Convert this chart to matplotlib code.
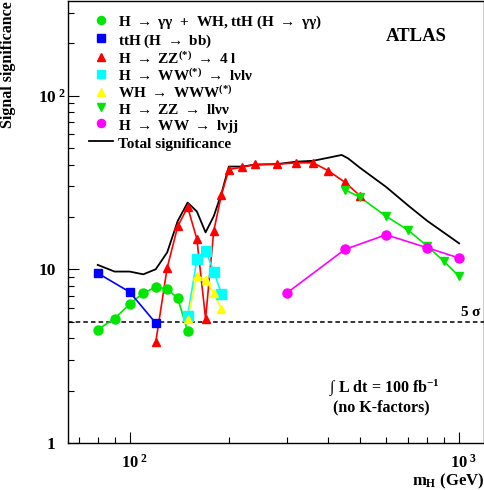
#!/usr/bin/python
# Signal significance vs Higgs mass, ATLAS 100 fb-1
import numpy as np
import matplotlib
matplotlib.use("Agg")
import matplotlib.pyplot as plt
import matplotlib.transforms as mtransforms

# H -> gamma gamma + WH, ttH (H -> gamma gamma)
m_gg = [80, 90, 100, 110, 120, 130, 140, 150]
s_gg = [4.5, 5.2, 6.3, 7.3, 7.9, 7.7, 6.8, 4.4]
# ttH (H -> bb)
m_tth = [80, 100, 120]
s_tth = [9.5, 7.4, 4.9]
# H -> ZZ(*) -> 4l
m_4l = [120, 130, 140, 150, 160, 170, 180, 190, 200, 220, 240, 280, 320, 360, 400, 450, 500]
s_4l = [3.8, 10.2, 17.7, 22.8, 14.9, 5.2, 16.6, 26.9, 37.5, 38.7, 40.1, 40.2, 41.0, 41.0, 37.0, 31.7, 26.5]
# H -> WW(*) -> lvlv
m_ww = [150, 160, 170, 180, 190]
s_ww = [5.4, 11.4, 12.8, 9.7, 7.2]
# WH -> WWW(*)
m_www = [150, 160, 170, 180, 190]
s_www = [5.2, 9.2, 8.7, 7.3, 5.9]
# H -> ZZ -> llvv
m_llvv = [450, 500, 600, 700, 800, 900, 1000]
s_llvv = [28.7, 26.0, 20.2, 16.8, 13.6, 11.1, 9.1]
# H -> WW -> lvjj
m_lvjj = [300, 450, 600, 800, 1000]
s_lvjj = [7.3, 13.0, 15.8, 13.3, 11.6]
# total significance
m_tot = [80, 90, 100, 110, 120, 130, 140, 150, 160, 170, 180, 190, 200, 220, 240,
         280, 320, 360, 400, 440, 460, 500, 600, 700, 800, 1000]
s_tot = [10.6, 9.7, 9.7, 9.35, 10.0, 12.5, 19.0, 24.2, 21.5, 16.3, 20.2, 27.3, 39.0, 39.0, 40.0,
         40.3, 41.6, 42.1, 43.8, 45.5, 43.5, 38.4, 29.8, 23.3, 19.0, 14.1]

labels = [r"H $\rightarrow$ $\gamma\gamma$  +  WH, ttH (H $\rightarrow$ $\gamma\gamma$)",
          r"ttH (H $\rightarrow$ bb)",
          r"H $\rightarrow$ ZZ$^{(*)}$ $\rightarrow$ 4 l",
          r"H $\rightarrow$ WW$^{(*)}$ $\rightarrow$ l$\nu$l$\nu$",
          r"WH $\rightarrow$ WWW$^{(*)}$",
          r"H $\rightarrow$ ZZ $\rightarrow$ ll$\nu\nu$",
          r"H $\rightarrow$ WW $\rightarrow$ l$\nu$jj",
          "Total significance"]

plt.rcParams['font.family'] = ['Liberation Serif', 'DejaVu Serif']
plt.rcParams['font.weight'] = 'bold'
plt.rcParams['mathtext.fontset'] = 'custom'
plt.rcParams['mathtext.rm'] = 'Liberation Serif:bold'
plt.rcParams['mathtext.it'] = 'Liberation Serif:bold'
plt.rcParams['mathtext.bf'] = 'Liberation Serif:bold'
plt.rcParams['mathtext.sf'] = 'Liberation Serif:bold'

fig = plt.figure(figsize=(4.85, 4.9), dpi=100)
ax = fig.add_axes([68/485, 47/490, 416/485, 442/490])

series = [
    (m_gg, s_gg, '#00e600', 'o', 6.5),
    (m_tth, s_tth, '#0000ff', 's', 6.0),
    (m_4l, s_4l, '#ff0000', '^', 6.0),
    (m_ww, s_ww, '#00ffff', 's', 6.5),
    (m_www, s_www, '#ffff00', '^', 6.0),
    (m_llvv, s_llvv, '#00e600', 'v', 6.0),
    (m_lvjj, s_lvjj, '#ff00ff', 'o', 6.5),
]
handles = []
for (mx, sy, col, mk, ms), lab in zip(series, labels):
    ax.plot(mx, sy, '-', color=col, lw=1.2, zorder=3)
    h, = ax.plot(mx, sy, ls='none', marker=mk, ms=ms, color=col, mec=col, zorder=4, label=lab)
    handles.append(h)
htot, = ax.plot(m_tot, s_tot, '-', color='black', lw=1.3, zorder=2, label=labels[-1])
handles.append(htot)

# 5 sigma line
ax.axhline(5, color='black', ls=(0, (3, 2)), lw=1.1, zorder=1)
ax.text(0.995, 5.15, r"5 $\sigma$", transform=ax.get_yaxis_transform(),
        ha='right', va='bottom', fontsize=11, fontweight='bold')

ax.text(0.837, 0.919, "ATLAS", transform=ax.transAxes, ha='center', va='center',
        fontsize=13.5, fontweight='bold')
ax.text(0.76, 0.124, r"$\int$ L dt = 100 fb$^{-1}$", transform=ax.transAxes,
        ha='center', va='center', fontsize=11.5, fontweight='bold')
ax.text(0.752, 0.081, "(no K-factors)", transform=ax.transAxes,
        ha='center', va='center', fontsize=11.5, fontweight='bold')

leg = ax.legend(handles=handles, loc='upper left', bbox_to_anchor=(0.035, 0.985),
                frameon=False, fontsize=11, handlelength=1.6, handletextpad=0.35,
                handleheight=1.1, labelspacing=0.03, borderaxespad=0.0, markerscale=0.9)

ax.set_xscale('log')
ax.set_yscale('log')
ax.set_xlim(65, 1190)
ax.set_ylim(1, 350)

ax.set_xticks([100, 1000])
ax.set_xticklabels([r"10$^{\ 2}$", r"10$^{\ 3}$"], fontsize=12)
ax.set_yticks([1, 10, 100])
ax.set_yticklabels(["1", "10", r"10$^{\ 2}$"], fontsize=12.5)
ax.tick_params(which='major', direction='in', length=8, width=0.8, top=False, right=False, pad=6)
ax.tick_params(which='minor', direction='in', length=4, width=0.8, top=False, right=False)
ax.tick_params(axis='y', which='major', pad=9)
ax.tick_params(axis='x', which='major', pad=8)
for sp in ax.spines.values():
    sp.set_linewidth(1.0)

# ROOT style: exponent hangs to the right of the "10"
shift_x = mtransforms.ScaledTranslation(0.05, 0, fig.dpi_scale_trans)
for lab in ax.get_xticklabels():
    lab.set_transform(lab.get_transform() + shift_x)
shift_y = mtransforms.ScaledTranslation(0.11, 0, fig.dpi_scale_trans)
ylab = ax.get_yticklabels()[2]
ylab.set_transform(ylab.get_transform() + shift_y)

ax.set_xlabel(r"m$_{\rm H}$ (GeV)", fontsize=12, fontweight='bold', loc='right')
ax.xaxis.set_label_coords(1.0, -0.066)
ax.set_ylabel("Signal significance", fontsize=11.5, fontweight='bold', loc='top')
ax.yaxis.set_label_coords(-0.125, 1.0)

fig.savefig("out.png", dpi=100)
